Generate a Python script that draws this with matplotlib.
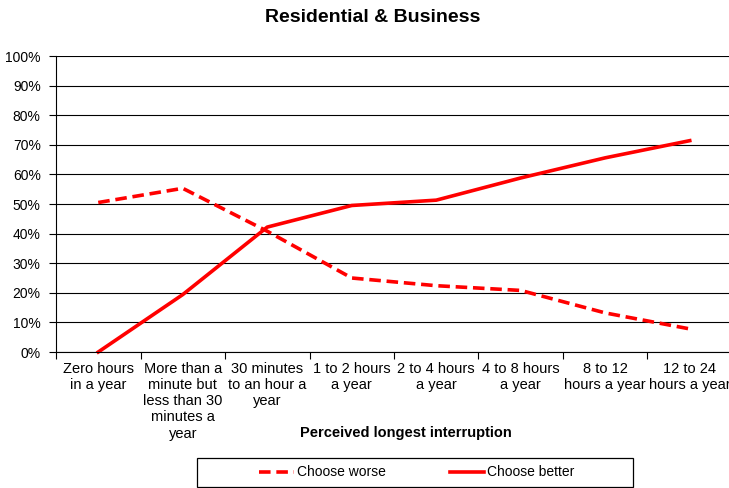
import matplotlib
matplotlib.use("Agg")
import matplotlib.pyplot as plt
from matplotlib.lines import Line2D
from matplotlib.patches import Rectangle

categories = ["Zero hours\nin a year", "More than a\nminute but\nless than 30\nminutes a\nyear",
              "30 minutes\nto an hour a\nyear", "1 to 2 hours\na year", "2 to 4 hours\na year",
              "4 to 8 hours\na year", "8 to 12\nhours a year", "12 to 24\nhours a year"]
choose_worse = [50.5, 55.3, 40.8, 25.0, 22.4, 20.8, 13.2, 7.8]
choose_better = [0.0, 19.4, 42.2, 49.5, 51.3, 58.8, 65.6, 71.4]
yticks = list(range(0, 101, 10))

plt.rcParams['font.family'] = ['Liberation Sans', 'DejaVu Sans']

fig = plt.figure(figsize=(7.29, 4.88), dpi=100)
W, H = 729, 488
left, right, top, bottom = 56, 732, 56, 352
ax = fig.add_axes([left / W, 1 - bottom / H, (right - left) / W, (bottom - top) / H])

dash = (0, (3.2, 1.6))
x = list(range(len(categories)))
ax.plot(x, choose_worse, color='#ff0000', lw=2.6, linestyle=dash, solid_capstyle='butt',
        label='Choose worse', clip_on=False)
ax.plot(x, choose_better, color='#ff0000', lw=2.6, label='Choose better', clip_on=False)

ax.set_xlim(-0.5, len(categories) - 0.5)
ax.set_ylim(0, 100)
ax.set_yticks(yticks)
ax.set_yticklabels([f"{v}%" for v in yticks], fontsize=10)
ax.yaxis.grid(True, color='black', lw=0.8)
ax.set_axisbelow(True)
ax.set_xticks(x)
ax.set_xticklabels(categories, fontsize=10.5, linespacing=1.2, va='top')
ax.tick_params(axis='x', length=0, pad=7)
ax.set_xticks([i + 0.5 for i in x[:-1]] + [-0.5], minor=True)
ax.tick_params(axis='x', which='minor', length=5, color='black', width=0.8)
ax.tick_params(axis='y', length=5, color='black', width=0.8, pad=6)
for s in ['top', 'right']:
    ax.spines[s].set_visible(False)
for s in ['left', 'bottom']:
    ax.spines[s].set_color('black')
    ax.spines[s].set_linewidth(0.8)

fig.text(373 / W, 1 - 17 / H, "Residential & Business", ha='center', va='center',
         fontsize=14, fontweight='bold')
fig.text(406 / W, 1 - 433 / H, "Perceived longest interruption", ha='center', va='center',
         fontsize=10.5, fontweight='bold')

# legend box
fig.add_artist(Rectangle((197 / W, 1 - 487 / H), (633 - 197) / W, (487 - 458) / H,
                         transform=fig.transFigure, facecolor='white', edgecolor='black',
                         lw=0.9))
handles = [Line2D([], [], color='#ff0000', lw=2.6, linestyle=dash),
           Line2D([], [], color='#ff0000', lw=2.6)]
leg = fig.legend(handles, ['Choose worse', 'Choose better'], loc='center',
                 bbox_to_anchor=(417 / W, 1 - 472.5 / H), ncol=2, frameon=False,
                 fontsize=10, handlelength=2.5, handletextpad=0.2,
                 columnspacing=4.6, borderpad=0.3)

fig.savefig("out.png", dpi=100)
